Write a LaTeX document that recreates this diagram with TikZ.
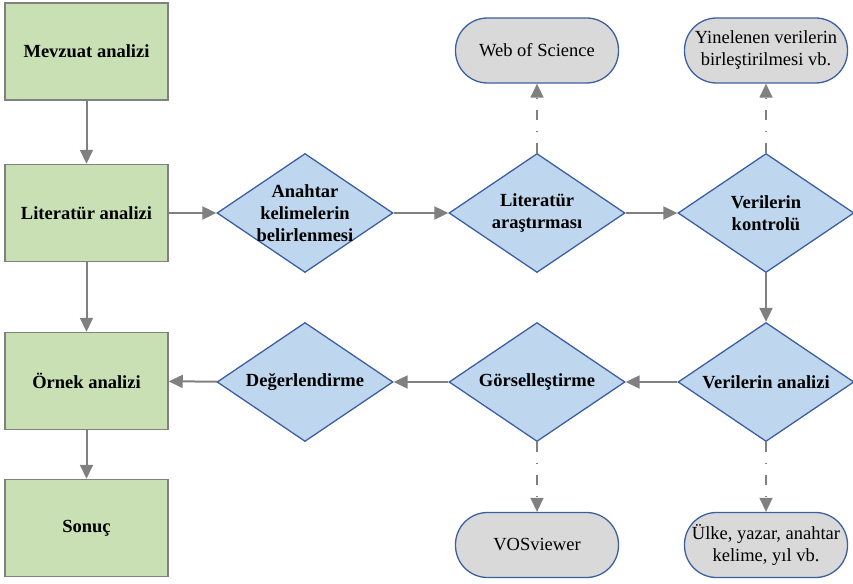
\documentclass[tikz,border=0pt]{standalone}
\usepackage{fontspec}
\setmainfont{Liberation Serif}
\usetikzlibrary{shapes.geometric,arrows.meta}
\definecolor{boxgreen}{RGB}{201,224,180}
\definecolor{diafill}{RGB}{190,215,238}
\definecolor{blueline}{RGB}{60,95,160}
\definecolor{pillfill}{RGB}{217,217,217}
\definecolor{arrgray}{RGB}{128,128,128}
\tikzset{
  greenbox/.style={rectangle, draw=arrgray, line width=1.5pt, fill=boxgreen, minimum width=163pt, minimum height=97pt, inner sep=0pt, font=\fontsize{18.5}{22}\selectfont\bfseries, align=center},
  dia/.style={diamond, draw=blueline, line width=1.3pt, fill=diafill, minimum width=176pt, minimum height=119pt, inner sep=0pt},
  diatxt/.style={font=\fontsize{18.5}{22}\selectfont\bfseries, align=center, inner sep=0pt},
  pill/.style={rectangle, rounded corners=32pt, draw=blueline, line width=1.3pt, fill=pillfill, minimum width=163pt, minimum height=65pt, inner sep=0pt, font=\fontsize{18.5}{22}\selectfont, align=center},
  flow/.style={draw=arrgray, line width=2pt, -{Triangle[width=13pt,length=14pt]}},
  dflow/.style={draw=arrgray, line width=1.5pt, dash pattern=on 10pt off 11pt on 1pt off 11pt, -{Triangle[width=13pt,length=14pt]}}
}
\begin{document}
\begin{tikzpicture}[x=1pt,y=-1pt]
\useasboundingbox (0,0) rectangle (853,583);
% left column
\node[greenbox] (b1) at (86.5,51.5) {Mevzuat analizi};
\node[greenbox] (b2) at (86.5,213) {Literatür analizi};
\node[greenbox] (b3) at (86.5,381) {Örnek analizi};
\node[greenbox] (b4) at (86.5,528) {Sonuç};
% diamonds row 1
\node[dia, label={[diatxt]center:{Anahtar\\kelimelerin\\belirlenmesi}}] (d1) at (305,213) {};
\node[dia, label={[diatxt]center:{Literatür\\araştırması}}] (d2) at (537,213) {};
\node[dia, label={[diatxt]center:{Verilerin\\kontrolü}}] (d3) at (766,213) {};
% diamonds row 2
\node[dia, label={[diatxt]center:{Verilerin analizi}}] (d4) at (766,382) {};
\node[dia, label={[diatxt]center:{Görselleştirme}}] (d5) at (537,382) {};
\node[dia, label={[diatxt]center:{Değerlendirme}}] (d6) at (305,382) {};
% pills
\node[pill] (p1) at (537,50.5) {Web of Science};
\node[pill] (p2) at (766,50.5) {Yinelenen verilerin\\birleştirilmesi vb.};
\node[pill] (p3) at (537,545) {VOSviewer};
\node[pill] (p4) at (766,545) {Ülke, yazar, anahtar\\kelime, yıl vb.};
% connectors
\draw[flow] (b1) -- (b2);
\draw[flow] (b2) -- (b3);
\draw[flow] (b3) -- (b4);
\draw[flow] (b2) -- (d1);
\draw[flow] (d1) -- (d2);
\draw[flow] (d2) -- (d3);
\draw[flow] (d3) -- (d4);
\draw[flow] (d4) -- (d5);
\draw[flow] (d5) -- (d6);
\draw[flow] (d6) -- (b3);
\draw[dflow] (d2) -- (p1);
\draw[dflow] (d3) -- (p2);
\draw[dflow] (d5) -- (p3);
\draw[dflow] (d4) -- (p4);
\end{tikzpicture}
\end{document}
